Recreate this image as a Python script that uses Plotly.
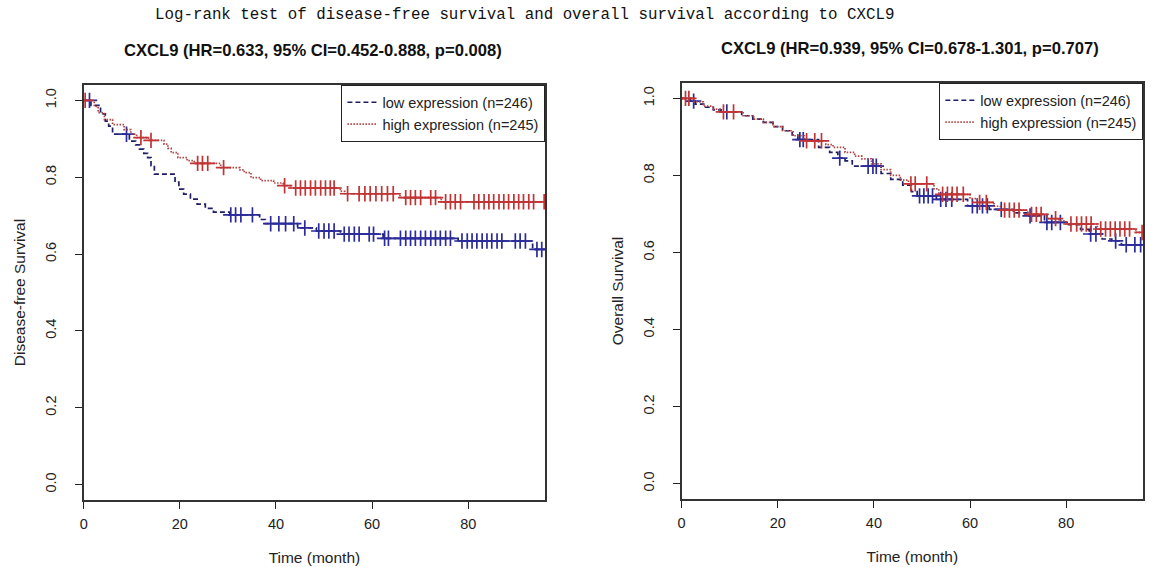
import bisect
import plotly.graph_objects as go

# ---------------- data ----------------
# Disease-free survival, low expression (step times / survival after the step)
dfs_low_t = [0, 1.5, 3.5, 4.5, 5.2, 6.0, 9.5, 10.8, 11.6, 12.5, 13.3, 14.0, 14.7, 19.0, 19.8,
             20.8, 22.2, 23.6, 25.3, 27.0, 30.4, 36.6, 37.8, 44.5, 48.4, 53.4, 62.3, 77.9, 93.4]
dfs_low_s = [1.0, 0.987, 0.965, 0.946, 0.933, 0.912, 0.894, 0.884, 0.873, 0.862, 0.851, 0.830,
             0.808, 0.787, 0.769, 0.756, 0.743, 0.730, 0.719, 0.709, 0.702, 0.690, 0.679, 0.668,
             0.660, 0.652, 0.641, 0.634, 0.612]
dfs_low_cens = [1.2, 8.9, 30.6, 31.6, 32.7, 35.1, 38.9, 40.6, 42.0, 43.7, 46.0, 48.9, 50.0, 51.0,
                52.1, 54.2, 55.2, 56.3, 57.3, 59.4, 60.3, 62.6, 63.4, 65.9, 67.0, 68.0, 69.0, 70.1,
                71.1, 72.2, 73.2, 74.2, 75.3, 76.3, 78.7, 79.8, 80.8, 81.8, 82.9, 83.9, 84.9, 86.0,
                87.0, 89.8, 90.8, 91.9, 94.3, 95.3]

# Disease-free survival, high expression
dfs_high_t = [0, 2.2, 3.0, 4.3, 6.0, 8.4, 9.8, 11.0, 13.5, 16.7, 17.5, 18.2, 19.6, 21.5, 23.0,
              28.5, 32.5, 33.4, 34.8, 36.8, 39.5, 41.5, 43.0, 53.4, 54.3, 65.8, 74.4]
dfs_high_s = [1.0, 0.984, 0.968, 0.950, 0.937, 0.924, 0.912, 0.903, 0.896, 0.886, 0.875, 0.864,
              0.851, 0.843, 0.836, 0.825, 0.819, 0.812, 0.799, 0.791, 0.785, 0.778, 0.772, 0.763,
              0.757, 0.747, 0.736]
dfs_high_cens = [0.3, 11.9, 14.0, 23.7, 24.7, 25.8, 29.1, 41.8, 44.1, 45.1, 46.1, 47.2, 48.2,
                 49.3, 50.3, 51.3, 52.1, 54.9, 57.3, 58.5, 59.6, 60.8, 62.0, 63.2, 64.4, 67.0,
                 68.0, 69.0, 70.1, 72.2, 73.2, 75.3, 76.3, 77.3, 78.4, 81.2, 82.2, 83.3, 84.3,
                 85.3, 86.4, 87.4, 88.4, 89.5, 90.5, 91.5, 92.6, 93.6, 95.8]

# Overall survival, low expression
os_low_t = [0, 1.8, 2.8, 4.6, 6.6, 8.2, 12.5, 14.8, 17.0, 19.0, 21.0, 23.0, 24.2, 28.5, 30.8,
            32.5, 34.0, 35.5, 41.5, 43.5, 46.0, 47.8, 49.0, 53.0, 59.5, 64.0, 69.0, 72.0, 75.5,
            80.5, 83.0, 84.8, 87.5, 89.5, 91.5]
os_low_s = [1.0, 0.993, 0.985, 0.977, 0.970, 0.965, 0.955, 0.946, 0.938, 0.927, 0.916, 0.905,
            0.893, 0.873, 0.860, 0.845, 0.838, 0.824, 0.805, 0.790, 0.775, 0.758, 0.747, 0.738,
            0.721, 0.712, 0.703, 0.695, 0.678, 0.672, 0.660, 0.648, 0.635, 0.630, 0.620]
os_low_cens = [2.5, 9.4, 24.6, 25.3, 32.9, 38.8, 39.8, 40.5, 49.5, 50.4, 51.3, 52.2, 53.9, 55.0,
               56.2, 60.5, 61.5, 62.6, 63.6, 66.5, 72.5, 76.0, 77.0, 78.8, 85.1, 86.2, 90.3,
               92.5, 94.3, 95.5]

# Overall survival, high expression
os_high_t = [0, 2.5, 4.5, 6.5, 8.0, 12.8, 15.0, 17.0, 19.0, 21.0, 23.2, 25.5, 30.0, 31.5, 34.0,
             36.0, 37.5, 39.5, 41.5, 43.5, 45.5, 47.2, 52.5, 53.5, 60.0, 61.5, 65.0, 66.3, 72.0,
             76.0, 78.5, 80.0, 86.5, 94.5]
os_high_s = [1.0, 0.991, 0.980, 0.972, 0.965, 0.955, 0.946, 0.938, 0.927, 0.916, 0.903, 0.890,
             0.880, 0.873, 0.860, 0.850, 0.843, 0.830, 0.815, 0.800, 0.788, 0.778, 0.765, 0.751,
             0.740, 0.730, 0.720, 0.710, 0.699, 0.688, 0.682, 0.674, 0.661, 0.652]
os_high_cens = [0.8, 1.5, 8.7, 10.8, 26.0, 27.7, 29.1, 47.7, 48.6, 51.0, 54.3, 55.3, 56.3, 57.3,
                58.6, 62.0, 63.4, 67.2, 68.2, 69.2, 70.2, 72.8, 73.8, 74.8, 77.8, 81.0, 82.2,
                83.2, 84.2, 85.2, 87.2, 88.2, 89.2, 90.2, 91.2, 92.2, 93.2, 95.8]

t_end = 96
x_ticks = [0, 20, 40, 60, 80]
y_ticks = [0.0, 0.2, 0.4, 0.6, 0.8, 1.0]
legend_labels = ["low expression (n=246)", "high expression (n=245)"]
main_title = "Log-rank test of disease-free survival and overall survival according to CXCL9"
panel_titles = ["CXCL9 (HR=0.633, 95% CI=0.452-0.888, p=0.008)",
                "CXCL9 (HR=0.939, 95% CI=0.678-1.301, p=0.707)"]
y_titles = ["Disease-free Survival", "Overall Survival"]
x_title = "Time (month)"

# ---------------- styles ----------------
LOW_LINE = "#1f1f66"
LOW_MARK = "#2b2b9c"
HIGH_LINE = "#b04444"
HIGH_MARK = "#c23434"
FAM = "Liberation Sans, Arial, sans-serif"
TICK_FONT = dict(family=FAM, size=14.5, color="#222")
TITLE_FONT = dict(family=FAM, size=15.5, color="#222")


def surv_at(tc, t, s):
    i = bisect.bisect_right(t, tc) - 1
    return s[max(i, 0)]


fig = go.Figure()

panels = [
    (dfs_low_t, dfs_low_s, dfs_low_cens, dfs_high_t, dfs_high_s, dfs_high_cens, "x", "y", "legend"),
    (os_low_t, os_low_s, os_low_cens, os_high_t, os_high_s, os_high_cens, "x2", "y2", "legend2"),
]

for (lt, ls, lc, ht, hs, hc, xa, ya, lg) in panels:
    for t, s, c, lcol, mcol, dash, name in [
        (lt, ls, lc, LOW_LINE, LOW_MARK, "5px,3px", legend_labels[0]),
        (ht, hs, hc, HIGH_LINE, HIGH_MARK, "1.5px,1.5px", legend_labels[1]),
    ]:
        fig.add_trace(go.Scatter(
            x=list(t) + [t_end], y=list(s) + [s[-1]], mode="lines",
            line=dict(shape="hv", color=lcol, width=1.7, dash=dash),
            name=name, xaxis=xa, yaxis=ya, legend=lg, showlegend=True,
        ))
        fig.add_trace(go.Scatter(
            x=c, y=[surv_at(tc, t, s) for tc in c], mode="markers",
            marker=dict(symbol="cross-thin", size=11, color=mcol,
                        line=dict(color=mcol, width=1.7)),
            xaxis=xa, yaxis=ya, showlegend=False, hoverinfo="skip",
        ))

W, H = 1153, 567
dom = [
    dict(x=[80 / W, 543 / W], y=[1 - 500 / H, 1 - 85 / H]),
    dict(x=[680 / W, 1143 / W], y=[1 - 499 / H, 1 - 83 / H]),
]

common_x = dict(range=[0, t_end], tickmode="array", tickvals=x_ticks, ticks="outside",
                ticklen=7, tickwidth=1.3, tickcolor="#222", showline=True, linecolor="#333",
                linewidth=1.5, mirror=True, showgrid=False, zeroline=False, tickfont=TICK_FONT,
                ticklabelstandoff=3,
                title=dict(text=x_title, font=TITLE_FONT, standoff=21))
common_y = dict(range=[-0.04, 1.04], tickmode="array", tickvals=y_ticks, tickformat=".1f",
                ticks="outside", ticklen=7, tickwidth=1.3, tickcolor="#222", showline=True,
                linecolor="#333", linewidth=1.5, mirror=True, showgrid=False, zeroline=False,
                tickangle=-90, tickfont=TICK_FONT, ticklabelstandoff=13)

legend_common = dict(xanchor="right", yanchor="top", bordercolor="#222", borderwidth=1.3,
                     bgcolor="white", font=dict(family=FAM, size=14.5, color="#222"),
                     itemwidth=30, tracegroupgap=0)

fig.update_layout(
    width=W, height=H, margin=dict(l=0, r=0, t=0, b=0),
    paper_bgcolor="white", plot_bgcolor="white",
    xaxis=dict(common_x, domain=dom[0]["x"], anchor="y"),
    yaxis=dict(common_y, domain=dom[0]["y"], anchor="x",
               title=dict(text=y_titles[0], font=TITLE_FONT, standoff=14)),
    xaxis2=dict(common_x, domain=dom[1]["x"], anchor="y2"),
    yaxis2=dict(common_y, domain=dom[1]["y"], anchor="x2",
                title=dict(text=y_titles[1], font=TITLE_FONT, standoff=14)),
    legend=dict(legend_common, x=dom[0]["x"][1], y=dom[0]["y"][1]),
    legend2=dict(legend_common, x=dom[1]["x"][1], y=dom[1]["y"][1]),
    showlegend=True,
)

fig.add_annotation(text=main_title, xref="paper", yref="paper", x=150 / W, y=1 - 15 / H,
                   xanchor="left", yanchor="middle", showarrow=False,
                   font=dict(family="Liberation Mono, monospace", size=15.8, color="#111"))
fig.add_annotation(text="<b>" + panel_titles[0] + "</b>", xref="paper", yref="paper",
                   x=310 / W, y=1 - 50 / H, xanchor="center", yanchor="middle", showarrow=False,
                   font=dict(family=FAM, size=16.6, color="#111"))
fig.add_annotation(text="<b>" + panel_titles[1] + "</b>", xref="paper", yref="paper",
                   x=909 / W, y=1 - 48 / H, xanchor="center", yanchor="middle", showarrow=False,
                   font=dict(family=FAM, size=16.6, color="#111"))

fig.write_html("out.html")
